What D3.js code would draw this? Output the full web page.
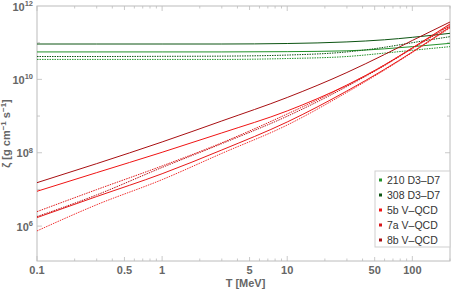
<!DOCTYPE html>
<html>
<head>
<meta charset="utf-8">
<script src="https://cdn.jsdelivr.net/npm/d3@7"></script>
<style>
  body { margin: 0; background: #fff; }
  svg text { font-family: "Liberation Sans", Arial, sans-serif; }
</style>
</head>
<body>
<div id="chart"></div>
<script>
const temps = [0.1, 0.3, 1, 3, 10, 30, 60, 100, 200];

// zeta values, g cm^-1 s^-1
const d3_210 = [5.6e10, 5.6e10, 5.6e10, 5.6e10, 5.7e10, 6.0e10, 6.8e10, 7.8e10, 9.6e10];
const d3_210b = [3.5e10, 3.5e10, 3.5e10, 3.5e10, 3.7e10, 4.2e10, 5.2e10, 6.2e10, 7.8e10];
const d3_308 = [9.2e10, 9.2e10, 9.2e10, 9.2e10, 9.5e10, 1.05e11, 1.2e11, 1.4e11, 1.8e11];
const d3_308b = [4.2e10, 4.2e10, 4.25e10, 4.3e10, 4.6e10, 5.6e10, 7.5e10, 1.0e11, 1.46e11];

const vq_8b = [1.53e7, 5.05e7, 1.97e8, 7.35e8, 3.21e9, 1.54e10, 4.77e10, 1.15e11, 3.66e11];
const vq_5b = [8.9e6, 2.87e7, 1.03e8, 3.47e8, 1.38e9, 7.0e9, 2.47e10, 7.2e10, 3.24e11];
const vq_7a = [2.48e6, 9.9e6, 4.37e7, 1.87e8, 1.14e9, 6.87e9, 2.5e10, 7.2e10, 3.03e11];
const vq_8bb = [1.82e6, 7.1e6, 3.97e7, 1.77e8, 9.9e8, 6.4e9, 2.39e10, 6.9e10, 2.85e11];
const vq_5bb = [1.71e6, 6.4e6, 2.68e7, 1.19e8, 6.9e8, 4.83e9, 1.88e10, 5.58e10, 2.68e11];
const vq_7ab = [7.4e5, 3.83e6, 1.85e7, 9.6e7, 5.7e8, 4.43e9, 1.8e10, 5.4e10, 2.52e11];

const legendNames = ['210 D3\u2013D7', '308 D3\u2013D7', '5b V\u2013QCD', '7a V\u2013QCD', '8b V\u2013QCD'];
const legendColors = ['#22922a', '#0c5412', '#f01414', '#d8161a', '#a80f12'];

const xTickLabels = [0.1, 0.5, 1, 5, 10, 50, 100];
const yTickExps = [6, 8, 10, 12];

const series = [
  { v: d3_308, color: '#0c5412', dash: null },
  { v: d3_210, color: '#22922a', dash: null },
  { v: d3_308b, color: '#0c5412', dash: '1.5,1' },
  { v: d3_210b, color: '#22922a', dash: '1.5,1' },
  { v: vq_7ab, color: '#f23030', dash: '1.5,1' },
  { v: vq_5bb, color: '#e81818', dash: null },
  { v: vq_8bb, color: '#b81418', dash: '1.5,1' },
  { v: vq_7a, color: '#e01a1a', dash: '1.5,1' },
  { v: vq_5b, color: '#f01414', dash: null },
  { v: vq_8b, color: '#a80f12', dash: null }
];

const W = 452, H = 290;
const margin = { left: 37, right: 2, top: 6, bottom: 29 };

const svg = d3.select('#chart').append('svg').attr('width', W).attr('height', H);

const x = d3.scaleLog().domain([0.1, 200]).range([margin.left, W - margin.right]);
const y = d3.scaleLog().domain([1.12e5, 1e12]).range([H - margin.bottom, margin.top]);

const x0 = margin.left, x1 = W - margin.right, y0 = H - margin.bottom, y1 = margin.top;
const frame = '#bcbcbc';

// ticks (inward), on all four sides
const xMajor = [0.1, 1, 10, 100];
const xMinor = [];
[0.1, 1, 10, 100].forEach(b => { for (let k = 2; k <= 9; k++) if (b * k <= 200) xMinor.push(b * k); });
const tk = svg.append('g').attr('stroke', frame).attr('stroke-width', 0.8);
xMinor.concat(xMajor).forEach(t => {
  const len = xMajor.includes(t) ? 5 : (t / Math.pow(10, Math.floor(Math.log10(t) + 1e-9)) === 5 ? 4 : 2.5);
  tk.append('line').attr('x1', x(t)).attr('x2', x(t)).attr('y1', y0).attr('y2', y0 - len);
  tk.append('line').attr('x1', x(t)).attr('x2', x(t)).attr('y1', y1).attr('y2', y1 + len);
});
for (let e = 6; e <= 11; e++) {
  const len = e % 2 === 0 ? 5 : 3;
  tk.append('line').attr('x1', x0).attr('x2', x0 + len).attr('y1', y(Math.pow(10, e))).attr('y2', y(Math.pow(10, e)));
  tk.append('line').attr('x1', x1).attr('x2', x1 - len).attr('y1', y(Math.pow(10, e))).attr('y2', y(Math.pow(10, e)));
}

// frame
svg.append('rect').attr('x', x0).attr('y', y1).attr('width', x1 - x0).attr('height', y0 - y1)
  .attr('fill', 'none').attr('stroke', frame).attr('stroke-width', 1);

// clip
svg.append('clipPath').attr('id', 'plotclip').append('rect')
  .attr('x', x0).attr('y', y1).attr('width', x1 - x0).attr('height', y0 - y1);

const line = d3.line()
  .x((d, i) => x(temps[i]))
  .y(d => y(d))
  .curve(d3.curveMonotoneX);

svg.append('g').attr('clip-path', 'url(#plotclip)')
  .selectAll('path').data(series).enter().append('path')
  .attr('d', d => line(d.v))
  .attr('fill', 'none')
  .attr('stroke', d => d.color)
  .attr('stroke-width', 1)
  .attr('stroke-dasharray', d => d.dash);

// tick labels
const labColor = '#666';
svg.append('g').selectAll('text').data(xTickLabels).enter().append('text')
  .attr('x', d => x(d)).attr('y', y0 + 13)
  .attr('text-anchor', 'middle').attr('font-size', 11).attr('font-weight', 'bold')
  .attr('fill', labColor).text(d => d);

const yl = svg.append('g').selectAll('text').data(yTickExps).enter().append('text')
  .attr('x', x0 - 4).attr('y', d => y(Math.pow(10, d)) + 4.5)
  .attr('text-anchor', 'end').attr('font-size', 11).attr('font-weight', 'bold')
  .attr('fill', labColor);
yl.append('tspan').text('10');
yl.append('tspan').attr('dy', -4.5).attr('font-size', 7.5).text(d => d);

// axis titles
svg.append('text').attr('x', (x0 + x1) / 2 + 2).attr('y', H - 3)
  .attr('text-anchor', 'middle').attr('font-size', 11).attr('font-weight', 'bold')
  .attr('fill', labColor).text('T [MeV]');

const yt = svg.append('text').attr('transform', `translate(10,${(y0 + y1) / 2}) rotate(-90)`)
  .attr('text-anchor', 'middle').attr('font-size', 11).attr('font-weight', 'bold')
  .attr('fill', labColor);
yt.append('tspan').text('\u03B6 [g cm');
yt.append('tspan').attr('dy', -4).attr('font-size', 8).text('\u22121');
yt.append('tspan').attr('dy', 4).text(' s');
yt.append('tspan').attr('dy', -4).attr('font-size', 8).text('\u22121');
yt.append('tspan').attr('dy', 4).text(']');

// legend
const lg = svg.append('g').attr('transform', 'translate(375,171)');
lg.append('rect').attr('width', 75).attr('height', 76)
  .attr('fill', '#fff').attr('stroke', '#cfcfcf').attr('stroke-width', 1);
const items = lg.selectAll('g.item').data(legendNames).enter().append('g')
  .attr('class', 'item').attr('transform', (d, i) => `translate(0,${9 + i * 15})`);
items.append('rect').attr('x', 4).attr('y', -1.5).attr('width', 3).attr('height', 3)
  .attr('fill', (d, i) => legendColors[i]);
items.append('text').attr('x', 12).attr('y', 4).attr('font-size', 10.5)
  .attr('fill', '#333').text(d => d);
</script>
</body>
</html>
